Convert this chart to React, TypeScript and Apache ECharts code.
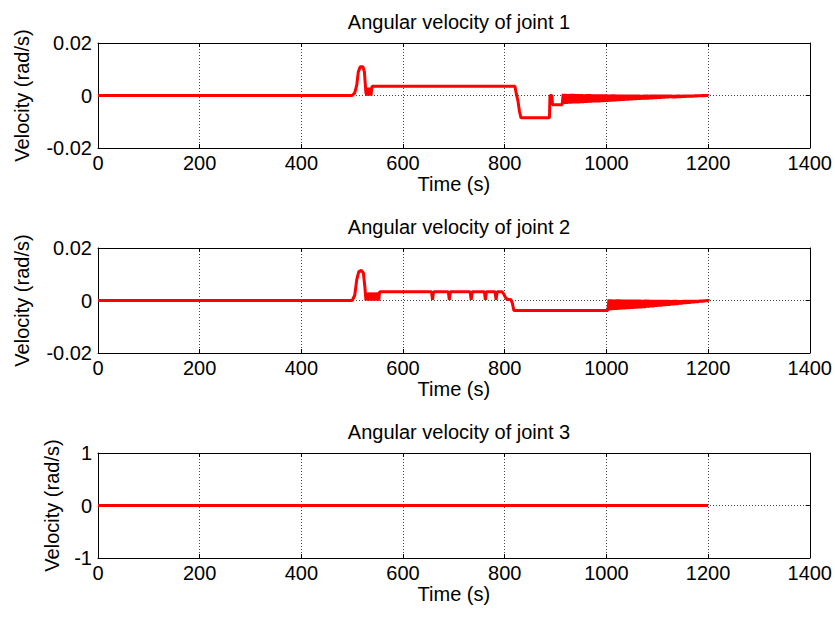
import React, { useEffect, useRef } from "react";
import * as echarts from "echarts";

const titles = ["Angular velocity of joint 1", "Angular velocity of joint 2", "Angular velocity of joint 3"];
const xTicks = [0, 200, 400, 600, 800, 1000, 1200, 1400];
const yName = "Velocity (rad/s)";
const xName = "Time (s)";

// Joint 1: step-like part [time, value]
const joint1Steps: [number, number][] = [
  [0, 0], [500, 0], [505, 0.001], [509, 0.004], [512, 0.009], [516, 0.011], [521, 0.011], [524, 0.009],
  [527, 0.001], [529, 0], [531, 0.003], [533, 0], [535, 0.003], [537, 0], [539, 0.0035],
  [820, 0.0035], [823, 0.0005], [826, -0.002], [829, -0.006], [832, -0.0085], [888, -0.0085],
  [889, 0], [893, 0], [894, -0.0035], [913, -0.0035],
];
// Joint 1: oscillation band [time, upper, lower]
const joint1Osc: [number, number, number][] = [
  [915, 0.0006, -0.0032], [923, 0.0005, -0.0031], [931, 0.0006, -0.003], [939, 0.0005, -0.003],
  [947, 0.0005, -0.0029], [955, 0.0004, -0.0028], [963, 0.0005, -0.0027], [971, 0.0004, -0.0026],
  [979, 0.0004, -0.0026], [987, 0.0004, -0.0025], [995, 0.0004, -0.0024], [1003, 0.0003, -0.0023],
  [1011, 0.0004, -0.0022], [1019, 0.0003, -0.0021], [1027, 0.0003, -0.002], [1035, 0.0003, -0.0019],
  [1043, 0.0003, -0.0018], [1051, 0.0003, -0.0017], [1059, 0.0003, -0.0016], [1067, 0.0002, -0.0015],
  [1075, 0.0003, -0.0015], [1083, 0.0002, -0.0014], [1091, 0.0002, -0.0013], [1099, 0.0002, -0.0012],
  [1107, 0.0002, -0.0011], [1115, 0.0002, -0.001], [1123, 0.0002, -0.0009], [1131, 0.0001, -0.0009],
  [1139, 0.0002, -0.0008], [1147, 0.0001, -0.0007], [1155, 0.0001, -0.0006], [1163, 0.0001, -0.0005],
  [1171, 0.0001, -0.0004], [1179, 0.0001, -0.0003], [1187, 0.0001, -0.0002], [1195, 0.0001, -0.0001],
];
// Joint 2: step-like part
const joint2Steps: [number, number][] = [
  [0, 0], [500, 0], [505, 0.002], [509, 0.008], [513, 0.011], [518, 0.0115], [522, 0.0105], [525, 0.005],
  [527, 0], [530, 0.003], [532, 0], [535, 0.003], [537, 0], [540, 0.003], [542, 0], [545, 0.003],
  [547, 0], [550, 0.003], [552, 0], [554, 0.0033],
  [656, 0.0033], [658, 0.0003], [660, 0.0033], [689, 0.0033], [691, 0.0003], [693, 0.0033],
  [732, 0.0033], [734, 0.0003], [736, 0.0033], [760, 0.0033], [762, 0.0003], [764, 0.0033],
  [781, 0.0033], [783, 0.0003], [785, 0.0033], [795, 0.0033], [798, 0.0025], [802, 0.001],
  [806, 0.0004], [812, 0.0004], [815, -0.001], [818, -0.0038], [1003, -0.0038],
];
// Joint 2: oscillation band [time, upper, lower]
const joint2Osc: [number, number, number][] = [
  [1005, 0.0004, -0.0037], [1013, 0.0003, -0.0036], [1021, 0.0004, -0.0035], [1029, 0.0003, -0.0034],
  [1037, 0.0003, -0.0033], [1045, 0.0003, -0.0032], [1053, 0.0003, -0.0031], [1061, 0.0003, -0.003],
  [1069, 0.0002, -0.0029], [1077, 0.0003, -0.0027], [1085, 0.0002, -0.0026], [1093, 0.0002, -0.0024],
  [1101, 0.0002, -0.0023], [1109, 0.0002, -0.0021], [1117, 0.0002, -0.002], [1125, 0.0001, -0.0018],
  [1133, 0.0002, -0.0017], [1141, 0.0001, -0.0015], [1149, 0.0001, -0.0013], [1157, 0.0001, -0.0012],
  [1165, 0.0001, -0.001], [1173, 0.0001, -0.0008], [1181, 0.0001, -0.0006], [1189, 0.0001, -0.0004],
  [1196, 0.0001, -0.0002],
];
// Joint 3
const joint3Steps: [number, number][] = [[0, 0], [1200, 0]];

const yRanges = [
  { min: -0.02, max: 0.02, interval: 0.02 },
  { min: -0.02, max: 0.02, interval: 0.02 },
  { min: -1, max: 1, interval: 1 },
];
const yNameGaps = [66, 66, 36];

function buildSeries(steps: [number, number][], osc: [number, number, number][]): [number, number][] {
  const out: [number, number][] = steps.map((p) => [p[0], p[1]]);
  osc.forEach((r) => {
    out.push([r[0], r[1]]);
    out.push([r[0] + 2, r[2]]);
    out.push([r[0] + 4, r[1]]);
    out.push([r[0] + 6, r[2]]);
  });
  return out;
}

export default function App() {
  const ref = useRef<HTMLDivElement>(null);
  useEffect(() => {
    if (!ref.current) return;
    const chart = echarts.init(ref.current, null, { renderer: "svg" });
    const font = "Liberation Sans, Arial, sans-serif";
    const fs = 20;
    const tops = [43, 248, 453];
    const h = 105;
    const datasets = [
      buildSeries(joint1Steps, joint1Osc),
      buildSeries(joint2Steps, joint2Osc),
      buildSeries(joint3Steps, []),
    ];
    const grids = tops.map((t) => ({ left: 98, top: t, width: 712, height: h }));
    const xAxes: any[] = [];
    const yAxes: any[] = [];
    tops.forEach((_, i) => {
      xAxes.push({
        type: "value", gridIndex: i, min: xTicks[0], max: xTicks[xTicks.length - 1], interval: 200, position: "bottom",
        axisLine: { show: true, onZero: false, lineStyle: { color: "#000", width: 1 } },
        axisTick: { show: true, inside: true, length: 4, lineStyle: { color: "#000" } },
        axisLabel: { color: "#000", fontSize: fs, fontFamily: font, margin: 5, formatter: (v: number) => String(v) },
        splitLine: { show: true, lineStyle: { color: "#444", type: [1, 2], width: 1 } },
        name: xName, nameLocation: "middle", nameGap: 22,
        nameTextStyle: { color: "#000", fontSize: fs, fontFamily: font, verticalAlign: "top" },
      });
      xAxes.push({
        type: "value", gridIndex: i, min: xTicks[0], max: xTicks[xTicks.length - 1], interval: 200, position: "top",
        axisLine: { show: true, onZero: false, lineStyle: { color: "#000", width: 1 } },
        axisTick: { show: true, inside: true, length: 4, lineStyle: { color: "#000" } },
        axisLabel: { show: false }, splitLine: { show: false },
      });
      yAxes.push({
        type: "value", gridIndex: i, ...yRanges[i], position: "left",
        axisLine: { show: true, onZero: false, lineStyle: { color: "#000", width: 1 } },
        axisTick: { show: true, inside: true, length: 4, lineStyle: { color: "#000" } },
        axisLabel: { color: "#000", fontSize: fs, fontFamily: font, margin: 6, formatter: (v: number) => String(v) },
        splitLine: { show: true, lineStyle: { color: "#444", type: [1, 2], width: 1 } },
        name: yName, nameLocation: "middle", nameGap: yNameGaps[i], nameRotate: 90,
        nameTextStyle: { color: "#000", fontSize: fs, fontFamily: font },
      });
      yAxes.push({
        type: "value", gridIndex: i, ...yRanges[i], position: "right",
        axisLine: { show: true, onZero: false, lineStyle: { color: "#000", width: 1 } },
        axisTick: { show: true, inside: true, length: 4, lineStyle: { color: "#000" } },
        axisLabel: { show: false }, splitLine: { show: false },
      });
    });
    const series = datasets.map((d, i) => ({
      type: "line", xAxisIndex: i * 2, yAxisIndex: i * 2, data: d, showSymbol: false,
      lineStyle: { color: "#ff0000", width: 3 }, itemStyle: { color: "#ff0000" },
    }));
    chart.setOption({
      animation: false,
      backgroundColor: "#fff",
      title: titles.map((t, i) => ({
        text: t, left: 454, textAlign: "center", top: tops[i] - 36,
        textStyle: { color: "#000", fontSize: fs, fontWeight: "normal", fontFamily: font },
      })),
      grid: grids,
      xAxis: xAxes,
      yAxis: yAxes,
      series,
    });
    return () => chart.dispose();
  }, []);
  return <div ref={ref} style={{ width: 835, height: 618, position: "absolute", left: 0, top: 0 }} />;
}
